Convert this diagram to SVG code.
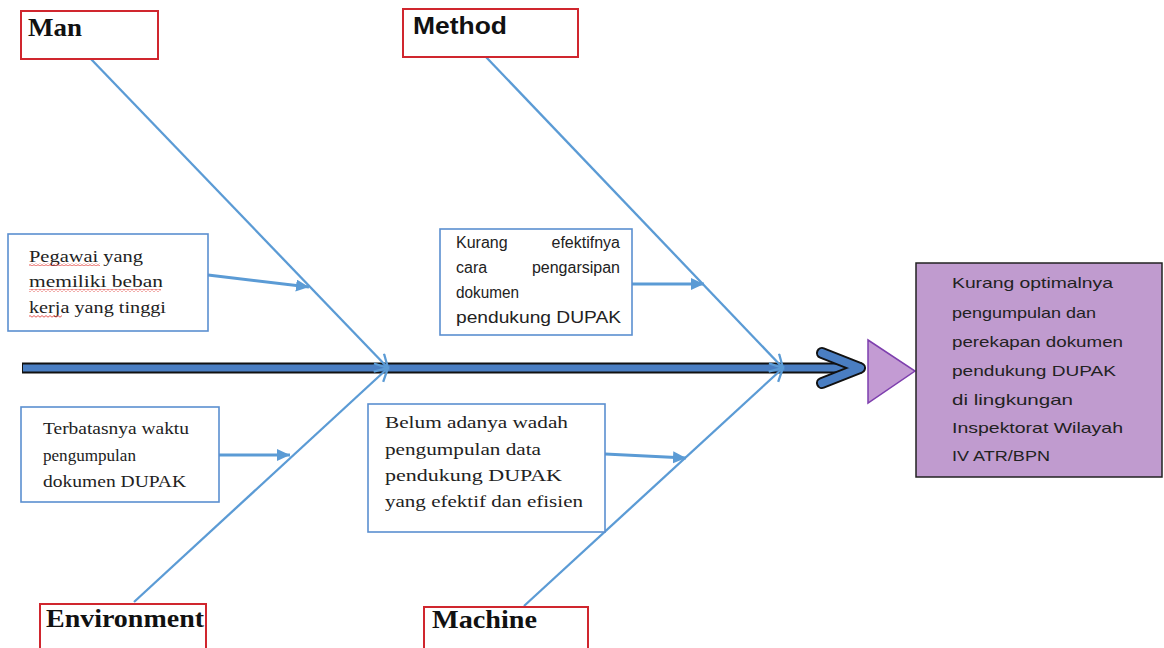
<svg xmlns="http://www.w3.org/2000/svg" width="1164" height="648" viewBox="0 0 1164 648">
<style>
.cat{fill:#fff;stroke:#D0262E;stroke-width:2}
.cause{fill:#fff;stroke:#5B8FD0;stroke-width:1.6}
.bone{stroke:#5B9BD5;stroke-width:2.3;fill:none}
.sub{stroke:#5B9BD5;stroke-width:3;fill:none}
.hs{font-family:"Liberation Serif",serif;font-weight:bold;font-size:26px;fill:#111}
.hn{font-family:"Liberation Sans",Arial,sans-serif;font-weight:bold;font-size:24px;fill:#111}
.ts{font-family:"Liberation Serif",serif;font-size:17px;fill:#222}
.tn{font-family:"Liberation Sans",Arial,sans-serif;font-size:15px;fill:#222}
.tk{font-family:"Liberation Sans",Arial,sans-serif;font-size:16px;fill:#222}
.end{text-anchor:end}
</style>
<defs>
<marker id="open" markerUnits="userSpaceOnUse" markerWidth="20" markerHeight="20" refX="14" refY="8" orient="auto">
<path d="M1,1 L14,8 L1,15" fill="none" stroke="#5B9BD5" stroke-width="2.3"/>
</marker>
<marker id="fill" markerUnits="userSpaceOnUse" markerWidth="16" markerHeight="14" refX="13" refY="6" orient="auto">
<path d="M0,0 L13,6 L0,12 Z" fill="#5B9BD5"/>
</marker>
<pattern id="wave" width="4" height="3" patternUnits="userSpaceOnUse">
<path d="M0,2.2 L2,0.6 L4,2.2" stroke="#E0302A" stroke-width="0.8" fill="none"/>
</pattern>
</defs>

<g id="connectors">
<line x1="22" y1="368" x2="862" y2="368" stroke="#111" stroke-width="11"/>
<line x1="23" y1="368" x2="861" y2="368" stroke="#4A7EC2" stroke-width="7"/>
<path d="M822,353 L860,368 L822,383" fill="none" stroke="#111" stroke-width="12" stroke-linecap="round" stroke-linejoin="round"/>
<path d="M822,353 L860,368 L822,383" fill="none" stroke="#4A7EC2" stroke-width="8" stroke-linecap="round" stroke-linejoin="round"/>
<line class="bone" x1="90" y1="58" x2="388" y2="368" marker-end="url(#open)"/>
<line class="bone" x1="486" y1="57" x2="783" y2="368" marker-end="url(#open)"/>
<line class="bone" x1="134" y1="602" x2="388" y2="368" marker-end="url(#open)"/>
<line class="bone" x1="524" y1="606" x2="783" y2="368" marker-end="url(#open)"/>
<line class="sub" x1="208" y1="275" x2="309" y2="287" marker-end="url(#fill)"/>
<line class="sub" x1="632" y1="284" x2="704" y2="284" marker-end="url(#fill)"/>
<line class="sub" x1="219" y1="455" x2="290" y2="455" marker-end="url(#fill)"/>
<line class="sub" x1="605" y1="454" x2="686" y2="458" marker-end="url(#fill)"/>
</g>

<g id="man">
<rect class="cat" x="21" y="11" width="137" height="48"/>
<text class="hs" x="28" y="36" textLength="54" lengthAdjust="spacingAndGlyphs">Man</text>
</g>
<g id="method">
<rect class="cat" x="403" y="9" width="175" height="48"/>
<text class="hn" x="413" y="34" textLength="94" lengthAdjust="spacingAndGlyphs">Method</text>
</g>
<g id="environment">
<rect class="cat" x="40" y="604" width="166" height="50"/>
<text class="hs" x="46" y="627" textLength="158" lengthAdjust="spacingAndGlyphs">Environment</text>
</g>
<g id="machine">
<rect class="cat" x="424" y="607" width="164" height="50"/>
<text class="hs" x="432" y="628" textLength="105" lengthAdjust="spacingAndGlyphs">Machine</text>
</g>

<g id="cause-pegawai">
<rect class="cause" x="8" y="234" width="200" height="97"/>
<text class="ts" x="29" y="262" textLength="114" lengthAdjust="spacingAndGlyphs">Pegawai yang</text>
<text class="ts" x="29" y="287" textLength="134" lengthAdjust="spacingAndGlyphs">memiliki beban</text>
<text class="ts" x="29" y="313" textLength="137" lengthAdjust="spacingAndGlyphs">kerja yang tinggi</text>
<rect x="29" y="263" width="71" height="3" fill="url(#wave)"/>
<rect x="29" y="289" width="132" height="3" fill="url(#wave)"/>
<rect x="29" y="315" width="33" height="3" fill="url(#wave)"/>
</g>

<g id="cause-kurang">
<rect class="cause" x="440" y="229" width="192" height="106"/>
<text class="tk" x="456" y="248">Kurang</text>
<text class="tk end" x="620" y="248">efektifnya</text>
<text class="tk" x="456" y="273">cara</text>
<text class="tk end" x="620" y="273">pengarsipan</text>
<text class="tk" x="456" y="298" textLength="63" lengthAdjust="spacingAndGlyphs">dokumen</text>
<text class="tk" x="456" y="323" textLength="165" lengthAdjust="spacingAndGlyphs">pendukung DUPAK</text>
</g>

<g id="cause-terbatas">
<rect class="cause" x="21" y="407" width="198" height="95"/>
<text class="ts" x="43" y="434" textLength="146" lengthAdjust="spacingAndGlyphs">Terbatasnya waktu</text>
<text class="ts" x="43" y="461" textLength="93" lengthAdjust="spacingAndGlyphs">pengumpulan</text>
<text class="ts" x="43" y="487" textLength="143" lengthAdjust="spacingAndGlyphs">dokumen DUPAK</text>
</g>

<g id="cause-belum">
<rect class="cause" x="368" y="404" width="237" height="128"/>
<text class="ts" x="385" y="428" textLength="183" lengthAdjust="spacingAndGlyphs">Belum adanya wadah</text>
<text class="ts" x="385" y="455" textLength="156" lengthAdjust="spacingAndGlyphs">pengumpulan data</text>
<text class="ts" x="385" y="481" textLength="177" lengthAdjust="spacingAndGlyphs">pendukung  DUPAK</text>
<text class="ts" x="385" y="507" textLength="198" lengthAdjust="spacingAndGlyphs">yang efektif dan efisien</text>
</g>

<g id="effect">
<polygon points="868,340 915,371 868,403" fill="#C39BD3" stroke="#7E3FAE" stroke-width="1.5"/>
<rect x="916" y="263" width="246" height="214" fill="#C09BCF" stroke="#222" stroke-width="1.5"/>
<text class="tn" x="952" y="288" textLength="161" lengthAdjust="spacingAndGlyphs">Kurang optimalnya</text>
<text class="tn" x="952" y="318" textLength="144" lengthAdjust="spacingAndGlyphs">pengumpulan dan</text>
<text class="tn" x="952" y="347" textLength="171" lengthAdjust="spacingAndGlyphs">perekapan dokumen</text>
<text class="tn" x="952" y="376" textLength="164" lengthAdjust="spacingAndGlyphs">pendukung DUPAK</text>
<text class="tn" x="952" y="405" textLength="121" lengthAdjust="spacingAndGlyphs">di lingkungan</text>
<text class="tn" x="952" y="433" textLength="171" lengthAdjust="spacingAndGlyphs">Inspektorat Wilayah</text>
<text class="tn" x="952" y="461" textLength="98" lengthAdjust="spacingAndGlyphs">IV ATR/BPN</text>
</g>
</svg>
